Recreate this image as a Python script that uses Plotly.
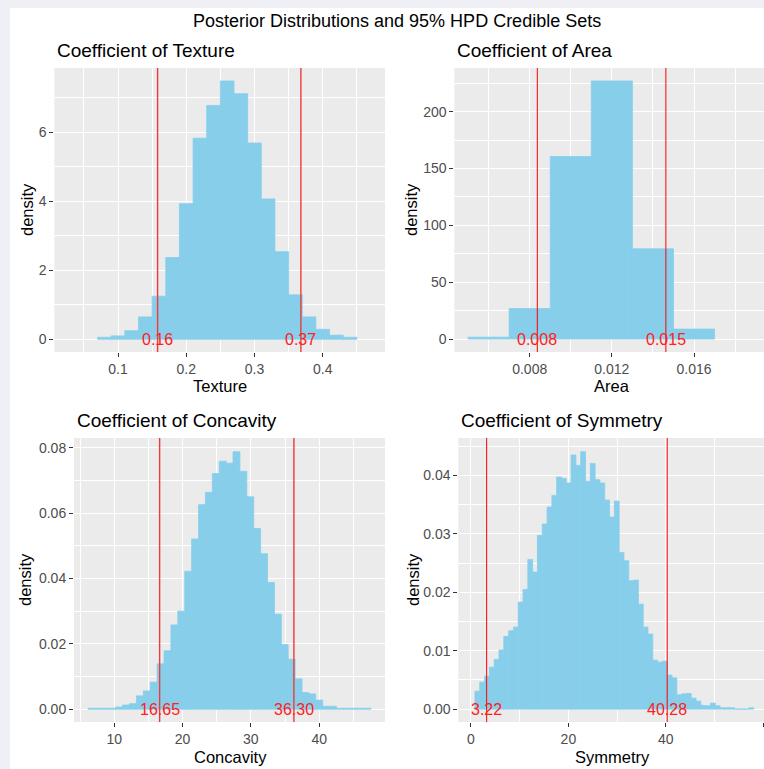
import plotly.graph_objects as go

# ---------------- data ----------------
texture_bin_start = 0.07
texture_binwidth = 0.02
texture_density = [0.06, 0.10, 0.25, 0.65, 1.25, 2.37, 3.93, 5.83, 6.78, 7.49,
                   7.12, 5.69, 4.07, 2.54, 1.29, 0.65, 0.29, 0.12, 0.06]
texture_hpd = [0.158, 0.368]
texture_hpd_labels = ["0.16", "0.37"]

area_bin_start = 0.005
area_binwidth = 0.002
area_density = [1.7, 26.9, 160.5, 227.0, 79.4, 8.8]
area_hpd = [0.00837, 0.01463]
area_hpd_labels = ["0.008", "0.015"]

concavity_bin_start = 6.19
concavity_binwidth = 1.0095
concavity_density = [0.0003, 0.0003, 0.0003, 0.0003, 0.0007, 0.0013, 0.0017, 0.0041,
                     0.0056, 0.0083, 0.0139, 0.0179, 0.0258, 0.0300, 0.0422, 0.0521,
                     0.0626, 0.0664, 0.0721, 0.0759, 0.0753, 0.0788, 0.0728, 0.0650,
                     0.0553, 0.0476, 0.0388, 0.0291, 0.0198, 0.0153, 0.0093, 0.0051,
                     0.0047, 0.0028, 0.0009, 0.0009, 0.0003, 0.0003, 0.0003, 0.0003,
                     0.0003]
concavity_hpd = [16.65, 36.30]
concavity_hpd_labels = ["16.65", "36.30"]

symmetry_bin_start = 0.82
symmetry_binwidth = 0.9866
symmetry_density = [0.00308, 0.00462, 0.00565, 0.00719, 0.0085, 0.0101, 0.01244, 0.01341,
                    0.01404, 0.01832, 0.02048, 0.02562, 0.02345, 0.02973, 0.03167, 0.03458,
                    0.03658, 0.03971, 0.03949, 0.03869, 0.04348, 0.04171, 0.04405, 0.03897,
                    0.04205, 0.03926, 0.03869, 0.03578, 0.03287, 0.0356, 0.02682, 0.02539,
                    0.02197, 0.02208, 0.01797, 0.01404, 0.01284, 0.00839, 0.00805, 0.00822,
                    0.00582, 0.00536, 0.00245, 0.00262, 0.00268, 0.00188, 0.00137, 0.00063,
                    0.00057, 0.00103, 0.00057, 0.00023, 0.00023, 0.00023, 0.0, 0.0,
                    0.0, 0.00023]
symmetry_hpd = [3.22, 40.28]
symmetry_hpd_labels = ["3.22", "40.28"]

main_title = "Posterior Distributions and 95% HPD Credible Sets"
panel_titles = ["Coefficient of Texture", "Coefficient of Area",
                "Coefficient of Concavity", "Coefficient of Symmetry"]
x_titles = ["Texture", "Area", "Concavity", "Symmetry"]

# ---------------- layout helpers ----------------
W, H = 764, 769
FONT = "Liberation Sans, Arial, sans-serif"
BAR = "#87CEEB"
TICKFONT = dict(family=FONT, size=14, color="#4d4d4d")


def fx(p):
    return p / W


def fy(p):
    return 1 - p / H


panels = [
    dict(start=texture_bin_start, bw=texture_binwidth, dens=texture_density,
         hpd=texture_hpd, lab=texture_hpd_labels,
         px=(54.3, 385), py=(68, 352), xr=[0.0066, 0.4913], yr=[-0.367, 7.865],
         xt=dict(tick0=0, dtick=0.1, mdt=0.05, fmt=""), yt=dict(tick0=0, dtick=2, mdt=1, fmt=""),
         lw=1.4, lc="#f03a3a", ytitle_x=27, xtitle_x=219.5, xtitle_y=386),
    dict(start=area_bin_start, bw=area_binwidth, dens=area_density,
         hpd=area_hpd, lab=area_hpd_labels,
         px=(454.3, 764), py=(68, 352), xr=[0.004329, 0.019408], yr=[-11.35, 238.4],
         xt=dict(tick0=0, dtick=0.004, mdt=0.002, fmt=".3f"), yt=dict(tick0=0, dtick=50, mdt=25, fmt=""),
         lw=1.0, lc="#ff0000", ytitle_x=411, xtitle_x=612, xtitle_y=386),
    dict(start=concavity_bin_start, bw=concavity_binwidth, dens=concavity_density,
         hpd=concavity_hpd, lab=concavity_hpd_labels,
         px=(74, 385), py=(438, 722), xr=[4.12, 49.63], yr=[-0.0039, 0.0830],
         xt=dict(tick0=0, dtick=10, mdt=5, fmt=""), yt=dict(tick0=0, dtick=0.02, mdt=0.01, fmt=".2f"),
         lw=1.4, lc="#f03a3a", ytitle_x=25, xtitle_x=230, xtitle_y=757),
    dict(start=symmetry_bin_start, bw=symmetry_binwidth, dens=symmetry_density,
         hpd=symmetry_hpd, lab=symmetry_hpd_labels,
         px=(458.3, 764), py=(438, 722), xr=[-2.6, 60.15], yr=[-0.0022, 0.0464],
         xt=dict(tick0=0, dtick=20, mdt=10, fmt=""), yt=dict(tick0=0, dtick=0.01, mdt=0.005, fmt=".2f"),
         lw=1.0, lc="#ff0000", ytitle_x=413, xtitle_x=612.5, xtitle_y=757),
]

fig = go.Figure()
annotations = []
shapes = []
layout_axes = {}

for i, p in enumerate(panels, start=1):
    n = len(p["dens"])
    centers = [p["start"] + (k + 0.5) * p["bw"] for k in range(n)]
    xa = "x" if i == 1 else f"x{i}"
    ya = "y" if i == 1 else f"y{i}"
    fig.add_trace(go.Bar(x=centers, y=p["dens"], width=[p["bw"]] * n,
                         marker=dict(color=BAR, line=dict(width=0.8, color=BAR)),
                         xaxis=xa, yaxis=ya, showlegend=False, hoverinfo="x+y"))

    common = dict(showgrid=True, gridcolor="white", gridwidth=1.3, zeroline=False,
                  showline=False, ticks="outside", ticklen=4, tickwidth=1.1,
                  tickcolor="#333333", tickfont=TICKFONT,
                  tickmode="linear", fixedrange=True)
    xkey = "xaxis" if i == 1 else f"xaxis{i}"
    ykey = "yaxis" if i == 1 else f"yaxis{i}"
    layout_axes[xkey] = dict(common, domain=[fx(p["px"][0]), fx(p["px"][1])], range=p["xr"],
                             anchor=ya, tick0=p["xt"]["tick0"], dtick=p["xt"]["dtick"],
                             tickformat=p["xt"]["fmt"],
                             minor=dict(tick0=0, dtick=p["xt"]["mdt"], showgrid=True,
                                        gridcolor="white", gridwidth=0.6, ticks=""))
    layout_axes[ykey] = dict(common, domain=[fy(p["py"][1]), fy(p["py"][0])], range=p["yr"],
                             anchor=xa, tick0=p["yt"]["tick0"], dtick=p["yt"]["dtick"],
                             tickformat=p["yt"]["fmt"],
                             minor=dict(tick0=0, dtick=p["yt"]["mdt"], showgrid=True,
                                        gridcolor="white", gridwidth=0.6, ticks=""))

    for v, lab in zip(p["hpd"], p["lab"]):
        shapes.append(dict(type="line", xref=xa, yref=f"{ya} domain", x0=v, x1=v, y0=0, y1=1,
                           line=dict(color=p["lc"], width=p["lw"]), layer="above"))
        annotations.append(dict(x=v, y=0, xref=xa, yref=ya, text=lab, showarrow=False,
                                xanchor="center", yanchor="middle",
                                font=dict(family=FONT, size=16, color="#ff2020")))

    # panel title
    annotations.append(dict(x=fx(p["px"][0] + 1), y=fy(p["py"][0] - 18), xref="paper", yref="paper",
                            text=panel_titles[i - 1], showarrow=False, xanchor="left",
                            yanchor="middle", font=dict(family=FONT, size=19, color="black")))
    # x title
    annotations.append(dict(x=fx(p["xtitle_x"]), y=fy(p["xtitle_y"]), xref="paper", yref="paper",
                            text=x_titles[i - 1], showarrow=False, xanchor="center",
                            yanchor="middle", font=dict(family=FONT, size=16.5, color="black")))
    # y title
    annotations.append(dict(x=fx(p["ytitle_x"]), y=fy((p["py"][0] + p["py"][1]) / 2),
                            xref="paper", yref="paper", text="density", showarrow=False,
                            textangle=-90, xanchor="center", yanchor="middle",
                            font=dict(family=FONT, size=16.5, color="black")))

annotations.append(dict(x=fx(397), y=fy(21), xref="paper", yref="paper", text=main_title,
                        showarrow=False, xanchor="center", yanchor="middle",
                        font=dict(family=FONT, size=18, color="black")))

# outer light strips (window chrome)
shapes.append(dict(type="rect", xref="paper", yref="paper", x0=0, x1=fx(10), y0=0, y1=1,
                   fillcolor="#eef0f5", line=dict(width=0), layer="below"))
shapes.append(dict(type="rect", xref="paper", yref="paper", x0=0, x1=1, y0=fy(8), y1=1,
                   fillcolor="#eef0f5", line=dict(width=0), layer="below"))

fig.update_layout(width=W, height=H, margin=dict(l=0, r=0, t=0, b=0),
                  paper_bgcolor="white", plot_bgcolor="#EBEBEB", barmode="overlay",
                  showlegend=False, annotations=annotations, shapes=shapes,
                  font=dict(family=FONT), **layout_axes)

fig.write_html("out.html")
